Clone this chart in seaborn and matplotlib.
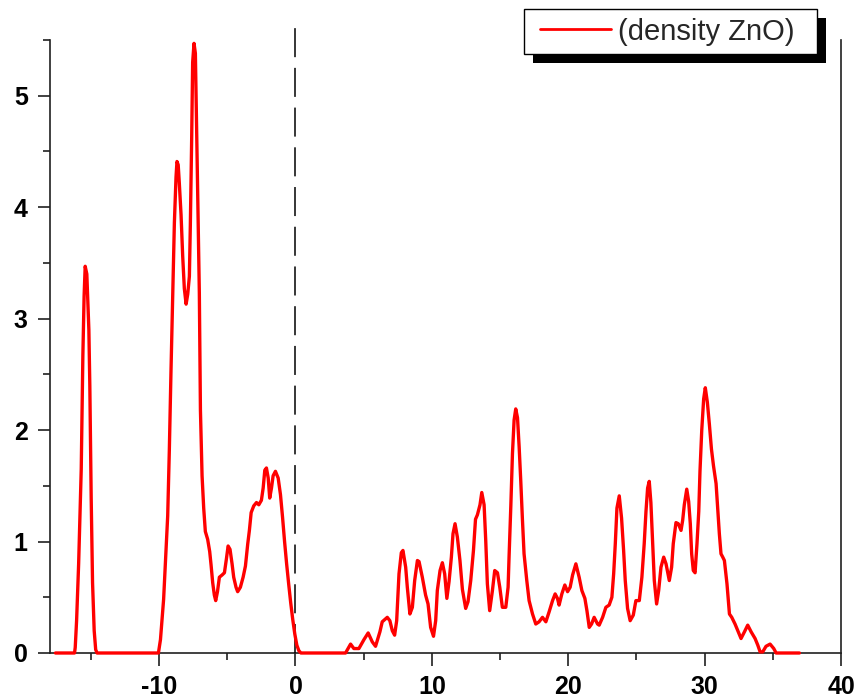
import matplotlib
matplotlib.use("Agg")
import matplotlib.pyplot as plt
from matplotlib.patches import Rectangle
import seaborn as sns
import pandas as pd

# Total density of states of ZnO, energy in eV
energy = [
    -17.6, -16.2, -16.15, -16.05, -15.9, -15.71, -15.59, -15.5, -15.42, -15.3,
    -15.15, -15.08, -14.98, -14.88, -14.76, -14.65, -14.55,
    -10.05, -9.9, -9.67, -9.54, -9.37, -9.25, -9.13, -9.0, -8.88, -8.76, -8.69,
    -8.6, -8.52, -8.39, -8.27, -8.15, -8.02, -7.9, -7.78, -7.71, -7.61, -7.54,
    -7.44, -7.34, -7.22, -7.05, -6.97, -6.85, -6.73, -6.61, -6.44, -6.29, -6.19,
    -6.07, -5.95, -5.85, -5.72, -5.58, -5.38, -5.21, -5.07, -4.94, -4.8, -4.65,
    -4.53, -4.36, -4.24, -4.04, -3.84, -3.67, -3.5, -3.38, -3.25, -3.06, -2.86,
    -2.69, -2.5, -2.37, -2.25, -2.13, -2.0, -1.89, -1.76, -1.64, -1.47, -1.27,
    -1.1, -0.95, -0.8, -0.65, -0.5, -0.35, -0.2, -0.05, 0.1, 0.25, 0.4,
    3.67, 4.04, 4.28, 4.65, 5.02, 5.33, 5.63, 5.87, 6.19, 6.36, 6.73, 6.92,
    7.1, 7.27, 7.42, 7.59, 7.76, 7.88, 8.08, 8.2, 8.39, 8.57, 8.74, 8.94, 9.06,
    9.3, 9.54, 9.72, 9.91, 10.12, 10.28, 10.4, 10.6, 10.77, 10.94, 11.1, 11.26,
    11.43, 11.55, 11.7, 11.87, 12.06, 12.24, 12.48, 12.65, 12.85, 13.05, 13.2,
    13.34, 13.53, 13.66, 13.83, 13.95, 14.07, 14.24, 14.44, 14.61, 14.81, 14.98,
    15.17, 15.42, 15.59, 15.66, 15.79, 15.91, 16.03, 16.15, 16.28, 16.4, 16.52,
    16.64, 16.76, 16.96, 17.13, 17.38, 17.62, 17.86, 18.11, 18.36, 18.6, 18.85,
    19.04, 19.21, 19.33, 19.53, 19.75, 19.95, 20.14, 20.32, 20.56, 20.8, 21.0,
    21.22, 21.37, 21.54, 21.71, 21.9, 22.15, 22.27, 22.52, 22.76, 23.0, 23.2,
    23.33, 23.45, 23.57, 23.74, 23.91, 24.06, 24.18, 24.35, 24.54, 24.77, 24.96,
    25.21, 25.4, 25.57, 25.7, 25.82, 25.94, 26.06, 26.19, 26.31, 26.48, 26.63,
    26.8, 27.0, 27.17, 27.41, 27.58, 27.7, 27.9, 28.07, 28.27, 28.39, 28.51,
    28.69, 28.83, 28.95, 29.05, 29.17, 29.3, 29.44, 29.57, 29.66, 29.79, 29.93,
    30.05, 30.2, 30.35, 30.5, 30.65, 30.84, 30.96, 31.08, 31.2, 31.33, 31.45,
    31.64, 31.82, 31.99, 32.23, 32.43, 32.67, 32.92, 33.16, 33.41, 33.7, 33.9,
    34.07, 34.26, 34.5, 34.8, 35.07, 35.24, 36.95,
]
density = [
    0.0, 0.0, 0.05, 0.29, 0.80, 1.65, 2.67, 3.2, 3.47, 3.40,
    2.9, 2.4, 1.39, 0.63, 0.2, 0.03, 0.0,
    0.0, 0.12, 0.48, 0.80, 1.23, 1.82, 2.52, 3.23, 3.86, 4.27, 4.41,
    4.38, 4.22, 3.93, 3.56, 3.27, 3.13, 3.22, 3.38, 3.84, 4.63, 5.30,
    5.47, 5.38, 4.50, 3.23, 2.18, 1.59, 1.30, 1.09, 1.02, 0.91, 0.79,
    0.63, 0.52, 0.47, 0.55, 0.68, 0.70, 0.72, 0.84, 0.96, 0.93, 0.80,
    0.68, 0.59, 0.55, 0.59, 0.68, 0.78, 0.98, 1.10, 1.26, 1.32, 1.35,
    1.33, 1.37, 1.48, 1.64, 1.66, 1.57, 1.39, 1.48, 1.59, 1.63, 1.57,
    1.42, 1.22, 1.0, 0.8, 0.62, 0.45, 0.3, 0.17, 0.07, 0.02, 0.0,
    0.0, 0.08, 0.04, 0.04, 0.12, 0.18, 0.10, 0.06, 0.19, 0.28, 0.32, 0.29,
    0.2, 0.16, 0.29, 0.71, 0.90, 0.92, 0.77, 0.59, 0.35, 0.41, 0.65, 0.83, 0.82,
    0.68, 0.52, 0.44, 0.23, 0.15, 0.29, 0.56, 0.74, 0.81, 0.71, 0.49, 0.64,
    0.86, 1.07, 1.16, 1.04, 0.83, 0.57, 0.40, 0.46, 0.65, 0.92, 1.2,
    1.24, 1.33, 1.44, 1.33, 1.01, 0.62, 0.38, 0.56, 0.74, 0.72, 0.59,
    0.41, 0.41, 0.59, 0.86, 1.32, 1.79, 2.09, 2.19, 2.11, 1.85, 1.54,
    1.20, 0.89, 0.65, 0.47, 0.35, 0.26, 0.28, 0.32, 0.28, 0.37, 0.47,
    0.53, 0.49, 0.43, 0.53, 0.61, 0.55, 0.59, 0.70, 0.80, 0.68, 0.56,
    0.49, 0.38, 0.23, 0.26, 0.32, 0.26, 0.25, 0.32, 0.41, 0.43, 0.50,
    0.71, 0.98, 1.30, 1.41, 1.21, 0.92, 0.65, 0.40, 0.29, 0.34, 0.47,
    0.47, 0.68, 0.98, 1.27, 1.48, 1.54, 1.35, 0.98, 0.65, 0.44, 0.56,
    0.77, 0.86, 0.80, 0.65, 0.77, 0.98, 1.17, 1.16, 1.10, 1.19, 1.33,
    1.47, 1.36, 1.16, 0.89, 0.74, 0.72, 0.98, 1.27, 1.63, 2.00, 2.28,
    2.38, 2.25, 2.05, 1.83, 1.68, 1.52, 1.30, 1.07, 0.89, 0.86, 0.83,
    0.62, 0.35, 0.32, 0.26, 0.20, 0.13, 0.19, 0.25, 0.19, 0.13, 0.07,
    0.01, 0.01, 0.06, 0.08, 0.04, 0.0, 0.0,
]

series_label = "(density ZnO)"
fermi_level = 0.0
x_ticks = [-10, 0, 10, 20, 30, 40]
x_minor = [-15, -5, 5, 15, 25, 35]
y_ticks = [0, 1, 2, 3, 4, 5]
y_minor = [0.5, 1.5, 2.5, 3.5, 4.5, 5.5]

df = pd.DataFrame({"energy": energy, "density": density})

sns.set_theme(style="ticks")
plt.rcParams["font.family"] = ["Liberation Sans", "DejaVu Sans"]
plt.rcParams["axes.unicode_minus"] = False

W, H = 861, 700
fig = plt.figure(figsize=(W / 100, H / 100), dpi=100)
ax = fig.add_axes([50 / W, 47 / H, 791 / W, 613 / H])

sns.lineplot(data=df, x="energy", y="density", sort=False, estimator=None,
             color="#ff0000", linewidth=2.4, ax=ax, label=series_label,
             legend=False)
for ln in ax.lines:
    ln.set_clip_on(False)
    ln.set_zorder(4)

# Fermi level marker, running a little above the frame
ax.axvline(fermi_level, ymin=0, ymax=1.026, color="black", linewidth=1.1,
           dashes=(19, 7), clip_on=False, zorder=3)

ax.set_xlim(-18, 40)
ax.set_ylim(0, 5.5)
ax.set_xticks(x_ticks)
ax.set_xticks(x_minor, minor=True)
ax.set_yticks(y_ticks)
ax.set_yticks(y_minor, minor=True)
ax.set_xlabel("")
ax.set_ylabel("")

ax.spines["top"].set_visible(False)
for side in ("left", "bottom", "right"):
    ax.spines[side].set_visible(True)
    ax.spines[side].set_linewidth(1.2)
    ax.spines[side].set_color("#202020")

ax.tick_params(axis="both", which="major", direction="out", length=9,
               width=1.2, color="#202020", labelsize=18, pad=7,
               labelcolor="black")
ax.tick_params(axis="both", which="minor", direction="out", length=5,
               width=1.2, color="#202020")
ax.tick_params(axis="y", which="both", right=False)
for lbl in ax.get_xticklabels() + ax.get_yticklabels():
    lbl.set_fontweight("bold")

# Legend box with a solid drop shadow
def fig_rect(x0, y0, w, h, **kw):
    return Rectangle((x0 / W, 1 - (y0 + h) / H), w / W, h / H,
                     transform=fig.transFigure, clip_on=False, **kw)

ax.add_patch(fig_rect(533, 18, 293, 45, facecolor="black",
                      edgecolor="black", linewidth=0, zorder=8))
ax.add_patch(fig_rect(524, 9, 293, 45, facecolor="white",
                      edgecolor="black", linewidth=1.0, zorder=9))

leg = ax.legend(loc="center left", bbox_to_anchor=(540 / W, 1 - 31.5 / H),
                bbox_transform=fig.transFigure, frameon=False, borderpad=0,
                borderaxespad=0, handlelength=2.42, handletextpad=0.25,
                fontsize=21)
leg.set_zorder(10)
leg.get_lines()[0].set_linewidth(2.0)

fig.savefig("out.png", dpi=100)
